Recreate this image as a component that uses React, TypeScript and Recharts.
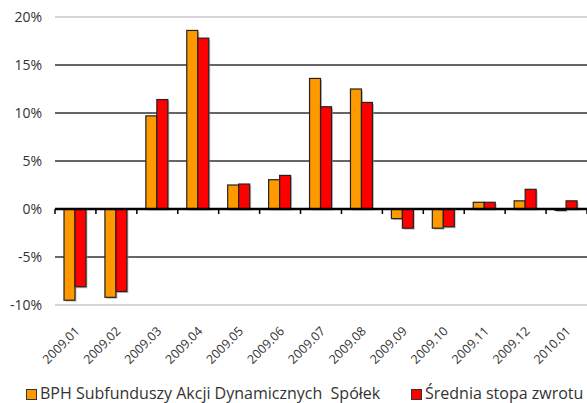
import React from "react";
import { BarChart, Bar, XAxis, YAxis, CartesianGrid, ReferenceLine, Legend } from "recharts";

const categories = ["2009.01", "2009.02", "2009.03", "2009.04", "2009.05", "2009.06", "2009.07", "2009.08", "2009.09", "2009.10", "2009.11", "2009.12", "2010.01"];
const fundValues = [-9.5, -9.2, 9.7, 18.6, 2.5, 3.05, 13.6, 12.5, -1.0, -2.0, 0.7, 0.85, -0.15];
const avgValues = [-8.1, -8.6, 11.4, 17.8, 2.6, 3.5, 10.65, 11.1, -2.0, -1.85, 0.7, 2.05, 0.85];
const yTicks = [-10, -5, 0, 5, 10, 15, 20];
const darkGrid = [-5, 5, 10, 15];
const lightGrid = [-10, 20];
const seriesNames = ["BPH Subfunduszy Akcji Dynamicznych  Spółek", "Średnia stopa zwrotu"];
const colors = ["#FF9900", "#FF0000"];

const data = categories.map((c, i) => ({ cat: c, fund: fundValues[i], avg: avgValues[i] }));

const FONT = "'Open Sans', sans-serif";

const XTick = (props: any) => {
  const { x, y, payload } = props;
  const ax = x + 5;
  const ay = y + 19;
  return (
    <text
      x={ax}
      y={ay}
      transform={`rotate(-45, ${ax}, ${ay})`}
      textAnchor="end"
      fontSize={12.5}
      fontFamily={FONT}
      fill="#333"
    >
      {payload.value}
    </text>
  );
};

const ZeroLine = (props: any) => {
  const { x1, x2, y1 } = props;
  const n = categories.length;
  const step = (x2 - x1) / n;
  const ticks = [];
  for (let i = 0; i <= n; i++) {
    const tx = x1 + i * step;
    ticks.push(<line key={i} x1={tx} x2={tx} y1={y1} y2={y1 + 5} stroke="#000" strokeWidth={1.5} />);
  }
  return (
    <g>
      <line x1={x1} x2={x2} y1={y1} y2={y1} stroke="#000" strokeWidth={2.5} />
      {ticks}
    </g>
  );
};

const ShadowBar = (props: any) => {
  const { x, y, width, height, fill } = props;
  const h = Math.abs(height);
  const top = height < 0 ? y + height : y;
  return (
    <g>
      <rect x={x + 1.5} y={top + 1.5} width={width} height={h} fill="#999" opacity={0.6} />
      <rect x={x} y={top} width={width} height={h} fill={fill} stroke="#222" strokeWidth={1.2} />
    </g>
  );
};

const LegendContent = () => (
  <div style={{ position: "relative", height: 38, fontFamily: FONT, fontSize: 16, color: "#333" }}>
    {seriesNames.map((name, i) => (
      <div
        key={name}
        style={{ position: "absolute", left: i === 0 ? 26 : 411, top: 17, display: "flex", alignItems: "center", whiteSpace: "pre", lineHeight: "22px" }}
      >
        <span style={{ display: "inline-block", width: 9, height: 9, background: colors[i], border: "1px solid #333", marginRight: 3, marginTop: 3 }} />
        <span>{name}</span>
      </div>
    ))}
  </div>
);

export default function App() {
  return (
    <div style={{ position: "absolute", left: 0, top: 0, background: "#fff" }}>
      <BarChart
        width={587}
        height={403}
        data={data}
        margin={{ top: 17, right: 0, left: 0, bottom: 0 }}
        barCategoryGap="22%"
        barGap={0}
      >
        <CartesianGrid vertical={false} horizontalValues={lightGrid} stroke="#c8c8c8" strokeWidth={1.5} />
        <CartesianGrid vertical={false} horizontalValues={darkGrid} stroke="#333" strokeWidth={1.3} />
        <XAxis
          dataKey="cat"
          height={60}
          axisLine={false}
          tickLine={false}
          interval={0}
          tick={<XTick />}
        />
        <YAxis
          width={55}
          domain={[-10, 20]}
          ticks={yTicks}
          tickFormatter={(v: number) => `${v}%`}
          axisLine={false}
          tickLine={false}
          tickSize={0}
          tickMargin={13}
          tick={{ fontSize: 14, fill: "#333", fontFamily: FONT }}
          interval={0}
        />
        <Legend verticalAlign="bottom" height={38} content={<LegendContent />} />
        <Bar dataKey="fund" name={seriesNames[0]} fill={colors[0]} isAnimationActive={false} shape={<ShadowBar />} />
        <Bar dataKey="avg" name={seriesNames[1]} fill={colors[1]} isAnimationActive={false} shape={<ShadowBar />} />
        <ReferenceLine y={0} shape={<ZeroLine />} />
      </BarChart>
    </div>
  );
}
